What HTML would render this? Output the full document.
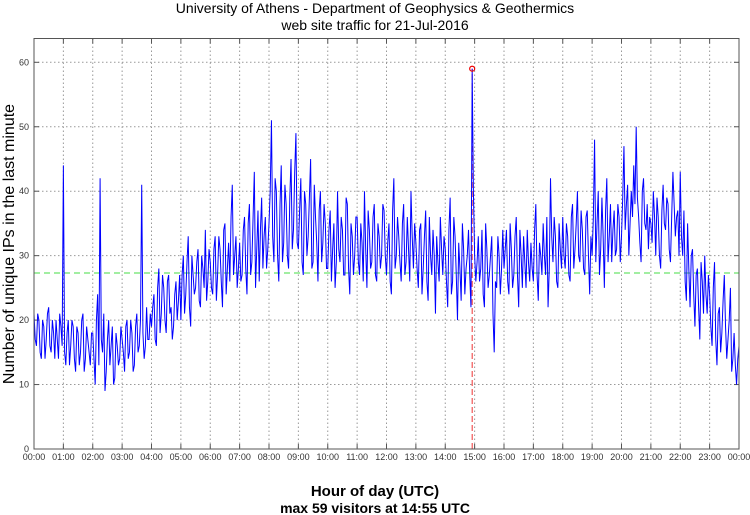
<!DOCTYPE html>
<html><head><meta charset="utf-8"><style>
body{margin:0;background:#fff;}
svg{display:block;font-family:"Liberation Sans",sans-serif;}
</style></head><body>
<svg id="chart" width="750" height="515">
<text x="375" y="13" text-anchor="middle" font-size="14">University of Athens - Department of Geophysics &amp; Geothermics</text>
<text x="375" y="30" text-anchor="middle" font-size="14">web site traffic for 21-Jul-2016</text>
<text transform="translate(14,244) rotate(-90)" text-anchor="middle" font-size="16">Number of unique IPs in the last minute</text>
<text x="375" y="496" text-anchor="middle" font-size="15" font-weight="bold">Hour of day (UTC)</text>
<text x="375" y="513" text-anchor="middle" font-size="14" font-weight="bold">max 59 visitors at 14:55 UTC</text>
<g id="grid"></g>
<g id="marks"></g>
<rect x="34" y="38.5" width="705" height="410.5" fill="none" stroke="#555" stroke-width="1"/>
</svg>
<script>
const yTicks=[0,10,20,30,40,50,60];
const xTickLabels=["00:00","01:00","02:00","03:00","04:00","05:00","06:00","07:00","08:00","09:00","10:00","11:00","12:00","13:00","14:00","15:00","16:00","17:00","18:00","19:00","20:00","21:00","22:00","23:00","00:00"];
const stepMinutes=5;
const visitorsA=[
21,16,20,14,19,17,22,15,18,20,14,19,
44,13,20,16,19,12,18,15,21,14,17,13,
18,10,24,42,15,9,17,13,19,11,16,14,
17,12,20,15,18,13,21,16,41,14,22,17,
19,24,16,28,21,25,18,27,22,19,26,23,
20,30,24,33,19,27,25,31,22,28,34,26,
29,24,33,27,31,22,35,28,26,41,30,25,
32,27,36,24,38,29,43,31,26,39,33,28,
35,51,29,40,26,44,32,38,28,45,34,49,
31,42,27,38,33,45,29,36,26,40,32,35,
28,37,31,25,40,29,34,27,38,24,33,30,
36,27,32,40,25,34,29,38,26,33,30,37,
27,35,24,42,30,33,26,38,29,31,40,28,
32,25,35,28,37,23,30,34,21,29,36,27,
31,22,39,26,33,20,28,35,24,30,27,59,
30,29,26,34,22,31,27,33,15,25,30,28,
28,34,24,31,27,36,22,30,33,25,29,32,
26,38,23,30,35,27,22,42,29,33,25,31,
36,28,33,26,38,31,40,29,34,27,37,24,
30,48,35,27,39,25,42,33,29,37,31,36,
33,47,38,30,40,44,50,36,29,42,34,31,
35,40,30,36,28,41,34,38,29,43,33,37,
43,30,26,35,22,31,19,28,17,26,30,21,
24,16,29,13,22,18,27,14,20,12,18,10,
16];
const visitorsB=[
17,21,15,20,14,21,16,20,14,17,21,16,
15,18,13,20,14,19,13,20,12,19,15,18,
14,20,13,17,21,12,20,16,10,18,13,19,
15,19,14,20,12,19,15,20,18,16,17,21,
22,17,25,18,27,20,26,21,17,24,20,27,
27,21,29,22,30,24,29,23,30,25,23,31,
25,31,23,33,26,34,24,32,36,27,33,28,
26,34,28,35,27,36,25,37,34,28,36,31,
40,33,42,30,38,29,41,30,39,31,43,32,
37,29,40,30,39,28,41,32,37,29,38,28,
34,26,35,29,31,36,27,39,28,35,27,36,
29,35,26,31,37,28,36,27,35,28,38,30,
32,26,37,28,36,29,35,27,36,26,33,35,
28,34,24,33,26,36,27,30,33,26,31,33,
26,34,24,36,27,32,23,31,28,34,22,40,
26,33,28,24,35,25,30,21,26,33,24,34,
31,26,35,25,33,27,34,25,29,34,26,28,
34,27,32,27,30,36,28,33,36,26,35,28,
30,35,27,36,28,35,30,37,28,36,30,33,
36,29,40,31,33,37,29,38,34,30,38,29,
39,34,41,35,36,38,39,32,40,35,38,36,
32,36,39,30,37,35,39,31,36,38,36,30,
33,37,23,28,30,24,27,22,29,21,24,27,
19,25,17,21,15,23,19,17,25,14,13,14];
const meanValue=[27.3];
const maxPoint={minute:895,value:59};

const X0=34,X1=739,Y0=449,Y1=62.3;
const xs=m=>X0+(m/1440)*(X1-X0);
const ys=v=>Y0-(v/60)*(Y0-Y1);
const NS="http://www.w3.org/2000/svg";
const grid=document.getElementById('grid'),marks=document.getElementById('marks');
function mk(tag,attrs,parent){const e=document.createElementNS(NS,tag);for(const k in attrs)e.setAttribute(k,attrs[k]);parent.appendChild(e);return e;}

yTicks.forEach(v=>{
  const y=ys(v);
  if(v>0){const g=mk('line',{x1:X0,x2:X1,y1:y,y2:y,stroke:'#999','stroke-dasharray':'1.5,2.5'},grid);
  
  }
  mk('line',{x1:X0,x2:X0+5,y1:y,y2:y,stroke:'#555'},grid);
  mk('line',{x1:X1-5,x2:X1,y1:y,y2:y,stroke:'#555'},grid);
  const t=mk('text',{x:X0-5,y:y+3,'text-anchor':'end','font-size':9,fill:'#333'},grid);
  t.textContent=v;
  
  
});
xTickLabels.forEach((lab,i)=>{
  const x=xs(i*60);
  if(i>0&&i<24){const g=mk('line',{x1:x,x2:x,y1:38.5,y2:Y0,stroke:'#999','stroke-dasharray':'1.5,2.5'},grid);
  
  }
  mk('line',{x1:x,x2:x,y1:Y0,y2:Y0-5,stroke:'#555'},grid);
  mk('line',{x1:x,x2:x,y1:38.5,y2:43.5,stroke:'#555'},grid);
  const t=mk('text',{x:x,y:460,'text-anchor':'middle','font-size':9,fill:'#333'},grid);
  t.textContent=lab;
  
  
});

const mean=mk('line',{x1:X0,x2:X1,y1:ys(meanValue[0]),y2:ys(meanValue[0]),stroke:'#44dd44','stroke-dasharray':'6,4','stroke-width':1},marks);



const vline=mk('line',{x1:xs(maxPoint.minute),x2:xs(maxPoint.minute),y1:Y0,y2:ys(maxPoint.value),stroke:'#ee3333','stroke-dasharray':'6,3','stroke-width':1},marks);



const pts=[];
visitorsA.forEach((v,i)=>{
  pts.push(xs(i*stepMinutes).toFixed(2)+','+ys(v).toFixed(2));
  if(i<visitorsB.length) pts.push(xs(i*stepMinutes+stepMinutes/2).toFixed(2)+','+ys(visitorsB[i]).toFixed(2));
});
const line=mk('polyline',{points:pts.join(' '),fill:'none',stroke:'#0000ff','stroke-width':1,'stroke-linejoin':'miter'},marks);



const c=mk('circle',{cx:xs(maxPoint.minute),cy:ys(maxPoint.value),r:2.5,fill:'none',stroke:'#ee0000','stroke-width':1.2},marks);


</script>
</body></html>
